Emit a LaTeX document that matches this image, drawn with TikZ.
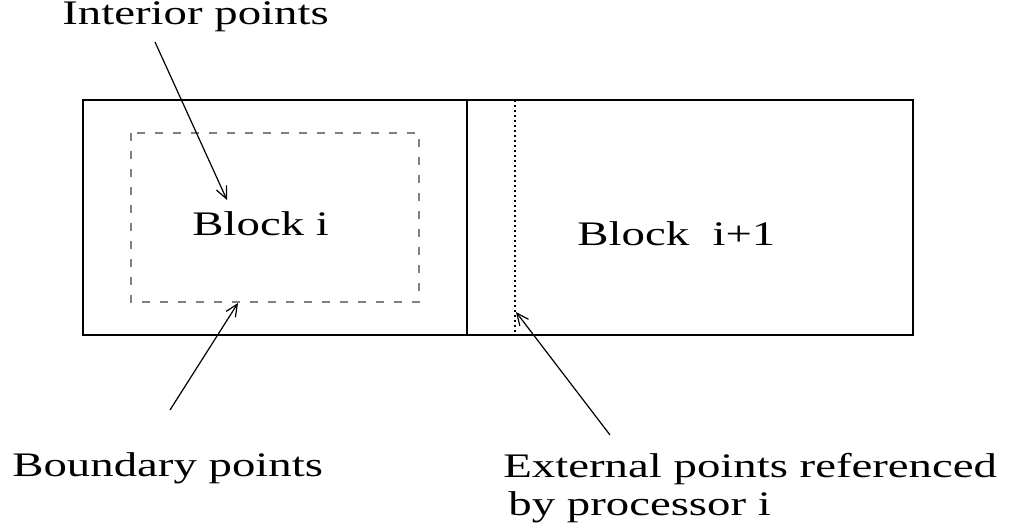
\documentclass[tikz,border=0pt]{standalone}
\usepackage{fontspec}
\setmainfont{Liberation Serif}
\usetikzlibrary{arrows.meta}

\begin{document}
\begin{tikzpicture}[x=0.5pt, y=-0.5pt,
	lbl/.style = {inner sep=0pt, anchor=base west, font=\fontsize{17.2}{20}\selectfont},
	ptr/.style = {line width=0.6pt, -{Straight Barb[length=6pt, width=5.5pt]}},
	edge/.style = {line width=0.65pt}]
	\useasboundingbox (0,0) rectangle (1016,529);
	% the two blocks
	\draw[edge] (83,100) rectangle (913,335);
	\draw[edge] (467,100) -- (467,335);
	\draw[gray, line width=0.6pt, dash pattern=on 4pt off 5pt] (131,133) rectangle (419,302);
	\draw[line width=0.6pt, dash pattern=on 1pt off 1.5pt] (515,100) -- (515,335);
	
	\node[lbl] (blk) at (192,235) {\scalebox{1.36}[1]{Block i}};
	\node[lbl] (nxt) at (577,245) {\scalebox{1.36}[1]{Block\ \ i+1}};
	
	% labels and their pointers
	\node[lbl] (interior) at (62,25) {\scalebox{1.36}[1]{Interior points}};
	\node[lbl] (boundary) at (12,476) {\scalebox{1.36}[1]{Boundary points}};
	\node[lbl] (external) at (503,477) {\scalebox{1.36}[1]{External points referenced}};
	\node[lbl] (proc) at (508,515) {\scalebox{1.36}[1]{by processor i}};
	
	\coordinate (intTail) at (155,42);
	\coordinate (intTip) at (227,200);
	\coordinate (bndTail) at (170,410);
	\coordinate (bndTip) at (238,303);
	\coordinate (extTail) at (610,435);
	\coordinate (extTip) at (516,312);
	\draw[ptr] (intTail) -- (intTip);
	\draw[ptr] (bndTail) -- (bndTip);
	\draw[ptr] (extTail) -- (extTip);
\end{tikzpicture}
\end{document}
